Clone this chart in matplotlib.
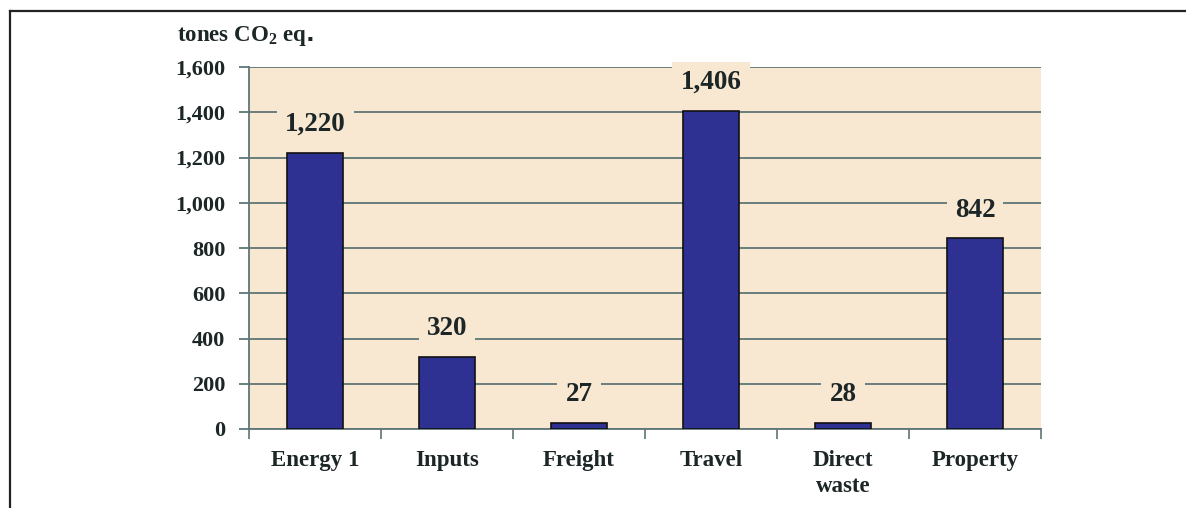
import matplotlib
matplotlib.use("Agg")
import matplotlib.pyplot as plt
from matplotlib.lines import Line2D

categories = ["Energy 1", "Inputs", "Freight", "Travel", "Direct\nwaste", "Property"]
values = [1220, 320, 27, 1406, 28, 842]
value_labels = ["1,220", "320", "27", "1,406", "28", "842"]
yticks = [0, 200, 400, 600, 800, 1000, 1200, 1400, 1600]
ytick_labels = ["0", "200", "400", "600", "800", "1,000", "1,200", "1,400", "1,600"]

plt.rcParams['font.family'] = ['Liberation Serif', 'DejaVu Serif']
plt.rcParams['mathtext.fontset'] = 'custom'
plt.rcParams['mathtext.rm'] = 'Liberation Serif:bold'

W, H = 1186, 508
fig = plt.figure(figsize=(W / 100, H / 100), dpi=100)
ax = fig.add_axes([249 / W, 1 - 429 / H, (1041 - 249) / W, (429 - 67) / H])

bg = '#F8E8D2'
grid_c = '#5E7676'
text_c = '#1C2626'
ax.set_facecolor(bg)

x = list(range(len(categories)))
ax.bar(x, values, width=0.42, color='#2E3192', edgecolor='#111111', linewidth=1.2, zorder=3)

ax.set_ylim(0, 1600)
ax.set_xlim(-0.5, len(categories) - 0.5)
ax.set_yticks(yticks)
ax.set_yticklabels(ytick_labels, fontsize=16, fontweight='bold', color=text_c)
ax.yaxis.grid(True, color=grid_c, linewidth=1.3, zorder=1)
ax.set_axisbelow(True)

ax.set_xticks(x)
ax.set_xticklabels(categories, fontsize=16.5, fontweight='bold', color=text_c, linespacing=1.35)
ax.set_xticks([i - 0.5 for i in range(len(categories) + 1)], minor=True)
ax.tick_params(axis='x', which='major', length=0, pad=15)
ax.tick_params(axis='x', which='minor', length=7, width=1.2, color=grid_c, direction='out')
ax.tick_params(axis='y', length=7, width=1.3, color=grid_c, pad=10)

for s in ['top', 'right']:
    ax.spines[s].set_visible(False)
for s in ['left', 'bottom']:
    ax.spines[s].set_color(grid_c)
    ax.spines[s].set_linewidth(1.3)

for xi, v, lab in zip(x, values, value_labels):
    ax.annotate(lab, (xi, v), xytext=(0, 20.5), textcoords='offset points',
                ha='center', va='center', fontsize=19.5, fontweight='bold', color=text_c,
                bbox=dict(boxstyle='square,pad=0.3', fc=bg, ec='none'), zorder=4)

fig.text(177 / W, 1 - 36 / H, r'tones CO$_{2}$ eq$\mathbf{.}$', fontsize=16.5, fontweight='bold',
         color=text_c, ha='left', va='center')

# outer frame (cut off at right and bottom)
fig.add_artist(Line2D([10 / W, 10 / W], [0, 1 - 11 / H], transform=fig.transFigure, color='#222222', linewidth=1.6))
fig.add_artist(Line2D([10 / W, 1], [1 - 11 / H, 1 - 11 / H], transform=fig.transFigure, color='#222222', linewidth=1.6))

fig.savefig('out.png', dpi=100, facecolor='white')
